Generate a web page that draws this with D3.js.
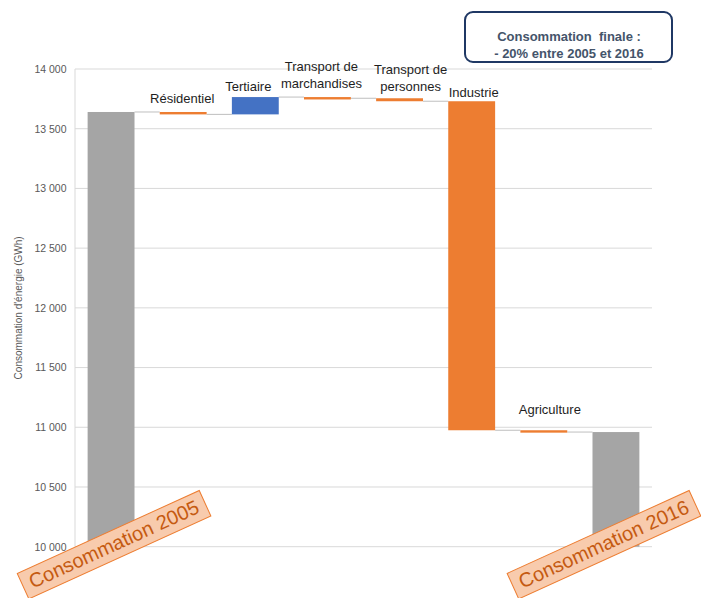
<!DOCTYPE html>
<html>
<head>
<meta charset="utf-8">
<script src="https://cdn.jsdelivr.net/npm/d3@7"></script>
<style>
  html, body { margin: 0; padding: 0; background: #ffffff; }
  svg { display: block; }
</style>
</head>
<body>
<svg id="chart" width="701" height="598"></svg>
<script>
// ---- Data ----
const categories = ["Consommation 2005", "Résidentiel", "Tertiaire", "Transport de marchandises",
  "Transport de personnes", "Industrie", "Agriculture", "Consommation 2016"];
const values = [13640, -20, 145, -10, -25, -2755, -15, 10960];
const kinds = ["total", "delta", "delta", "delta", "delta", "delta", "delta", "total"];
const labelLines = [[], ["Résidentiel"], ["Tertiaire"], ["Transport de", "marchandises"],
  ["Transport de", "personnes"], ["Industrie"], ["Agriculture"], []];
const totalLabels = ["Consommation 2005", "Consommation 2016"];
const yTicks = [10000, 10500, 11000, 11500, 12000, 12500, 13000, 13500, 14000];
const yTitle = "Consommation d'énergie (GWh)";
const noteLines = ["Consommation  finale :", "- 20% entre 2005 et 2016"];

// ---- Layout (positions / styles, separate from data) ----
const svg = d3.select("#chart");
const plot = { left: 75, right: 652, top: 69, bottom: 546.7 };
const colors = { total: "#a5a5a5", up: "#4472c4", down: "#ed7d31" };
const labelDx = [0, -1, -7, -6, 11, 2, 6, 0];
const labelGap = [0, 9, 6, 9, 7, 4, 16, 0];
const FONT = "Liberation Sans, Arial, sans-serif";

const x = d3.scaleBand().domain(categories).range([plot.left, plot.right])
  .paddingInner(0.35).paddingOuter(0.175);
const y = d3.scaleLinear().domain([10000, 14000]).range([plot.bottom, plot.top]);

const fmt = d3.formatLocale({ decimal: ",", thousands: "\u00a0", grouping: [3], currency: ["", ""] }).format(",d");

// waterfall geometry
let running = 0;
const bars = categories.map((c, i) => {
  let start, end, type;
  if (kinds[i] === "total") { start = y.domain()[0]; end = values[i]; running = values[i]; type = "total"; }
  else { start = running; end = running + values[i]; running = end; type = values[i] >= 0 ? "up" : "down"; }
  return { i, cat: c, start, end, type, level: running, lines: labelLines[i] };
});

// gridlines
svg.append("g").selectAll("line").data(yTicks).join("line")
  .attr("x1", plot.left).attr("x2", plot.right)
  .attr("y1", d => y(d)).attr("y2", d => y(d))
  .attr("stroke", "#d9d9d9").attr("stroke-width", 1);
// left border
svg.append("line").attr("x1", plot.left).attr("x2", plot.left)
  .attr("y1", plot.top).attr("y2", plot.bottom).attr("stroke", "#d9d9d9");

// y axis
const yAxis = d3.axisLeft(y).tickValues(yTicks).tickFormat(fmt).tickSize(0).tickPadding(0);
const ga = svg.append("g").attr("transform", `translate(${plot.left - 8.5},0)`).call(yAxis);
ga.select(".domain").remove();
ga.selectAll("text").attr("fill", "#595959").style("font-family", FONT)
  .style("font-size", "10.5px");

svg.append("text")
  .attr("transform", `translate(19,${(plot.top + plot.bottom) / 2}) rotate(-90)`)
  .attr("text-anchor", "middle").attr("dominant-baseline", "middle")
  .attr("fill", "#595959").style("font-family", FONT)
  .style("font-size", "10px").text(yTitle);

// connectors
svg.append("g").selectAll("line").data(bars.slice(0, -1)).join("line")
  .attr("x1", d => x(d.cat) + x.bandwidth())
  .attr("x2", (d, i) => x(categories[i + 1]))
  .attr("y1", d => y(d.level)).attr("y2", d => y(d.level))
  .attr("stroke", "#bfbfbf").attr("stroke-width", 1);

// bars
svg.append("g").selectAll("rect").data(bars).join("rect")
  .attr("x", d => x(d.cat)).attr("width", x.bandwidth())
  .attr("y", d => y(Math.max(d.start, d.end)))
  .attr("height", d => Math.max(2.4, Math.abs(y(d.start) - y(d.end))))
  .attr("fill", d => colors[d.type]);

// category labels
const lbl = svg.append("g").style("font-family", FONT)
  .style("font-size", "13px").attr("fill", "#1e1e1e");
bars.forEach(d => {
  if (!d.lines.length) return;
  const top = y(Math.max(d.start, d.end));
  const cx = x(d.cat) + x.bandwidth() / 2 + labelDx[d.i];
  d.lines.forEach((t, j) => {
    lbl.append("text").attr("x", cx)
      .attr("y", top - labelGap[d.i] - (d.lines.length - 1 - j) * 17)
      .attr("text-anchor", "middle").text(t);
  });
});

// rotated total labels
const totIdx = [0, categories.length - 1];
const boxOffsets = [3, -12];
totIdx.forEach((ci, k) => {
  const cx = x(categories[ci]) + x.bandwidth() / 2 + boxOffsets[k];
  const cy = y(10000) - 2;
  const g = svg.append("g").attr("transform", `translate(${cx},${cy}) rotate(-24.5)`);
  g.append("rect").attr("x", -100).attr("y", -14).attr("width", 200).attr("height", 28)
    .attr("fill", "#f8cbad").attr("stroke", "#ed7d31").attr("stroke-width", 1);
  g.append("text").attr("x", 0).attr("y", 1).attr("text-anchor", "middle")
    .attr("dominant-baseline", "middle").attr("fill", "#c55a11")
    .style("font-family", FONT).style("font-size", "20px")
    .text(totalLabels[k]);
});

// note box
const note = svg.append("g");
note.append("rect").attr("x", 465).attr("y", 12).attr("width", 207).attr("height", 50)
  .attr("rx", 8).attr("ry", 8).attr("fill", "#ffffff")
  .attr("stroke", "#1f3864").attr("stroke-width", 2);
noteLines.forEach((t, i) => {
  note.append("text").attr("x", 569).attr("y", 41 + i * 16.5)
    .attr("text-anchor", "middle").attr("fill", "#44546a")
    .style("font-family", FONT).style("font-weight", "bold")
    .style("font-size", "13px").style("white-space", "pre").text(t);
});
</script>
</body>
</html>
